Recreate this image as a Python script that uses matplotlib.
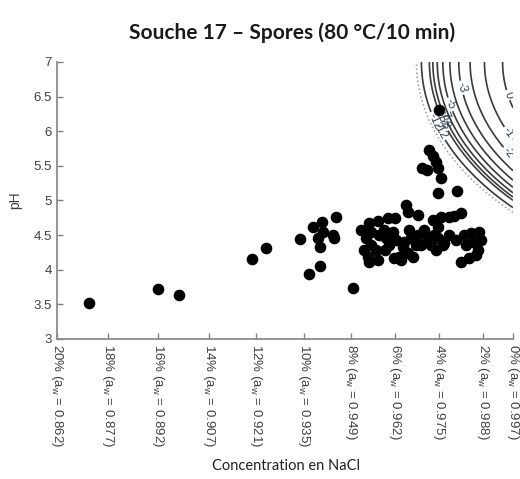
import numpy as np
import matplotlib
matplotlib.use('Agg')
import matplotlib.pyplot as plt

plt.rcParams['font.family'] = ['Liberation Sans', 'DejaVu Sans']
plt.rcParams['mathtext.fontset'] = 'custom'
plt.rcParams['mathtext.rm'] = 'Liberation Sans'

# observed growth conditions (water activity, pH)
aw_obs = [0.8715, 0.8920, 0.8982, 0.9196, 0.9240, 0.9338, 0.9365, 0.9400, 0.9377, 0.9406,
          0.9445, 0.9392, 0.9409, 0.9436, 0.9439, 0.9400, 0.9495, 0.9519, 0.9543, 0.9570,
          0.9599, 0.9620, 0.9653, 0.9659, 0.9688, 0.9534, 0.9549, 0.9573, 0.9587, 0.9614,
          0.9623, 0.9528, 0.9549, 0.9540, 0.9543, 0.9570, 0.9617, 0.9632, 0.9638, 0.9659,
          0.9673, 0.9647, 0.9662, 0.9667, 0.9682, 0.9688, 0.9706, 0.9718, 0.9733, 0.9748,
          0.9756, 0.9780, 0.9795, 0.9816, 0.9736, 0.9748, 0.9765, 0.9780, 0.9742, 0.9762,
          0.9825, 0.9846, 0.9869, 0.9875, 0.9851, 0.9866, 0.9860, 0.9840, 0.9816, 0.9751,
          0.9721, 0.9733, 0.9742, 0.9748, 0.9756, 0.9700, 0.9715, 0.9748, 0.9804, 0.9590,
          0.9602, 0.9564, 0.9593, 0.9644, 0.9697, 0.9727, 0.9801, 0.9831]
ph_obs = [3.52, 3.72, 3.64, 4.16, 4.31, 4.44, 3.94, 4.05, 4.62, 4.69,
          4.76, 4.46, 4.55, 4.50, 4.46, 4.33, 3.74, 4.57, 4.68, 4.70,
          4.74, 4.75, 4.94, 4.83, 4.79, 4.46, 4.55, 4.50, 4.57, 4.55,
          4.43, 4.29, 4.36, 4.18, 4.11, 4.14, 4.17, 4.18, 4.14, 4.24,
          4.18, 4.40, 4.57, 4.46, 4.36, 4.50, 4.57, 4.46, 4.72, 4.62,
          4.76, 4.76, 4.78, 4.82, 4.50, 4.46, 4.39, 4.50, 4.29, 4.36,
          4.50, 4.53, 4.55, 4.43, 4.40, 4.29, 4.22, 4.17, 4.11, 6.31,
          5.73, 5.64, 5.56, 5.47, 5.32, 5.47, 5.44, 5.11, 5.14, 4.29,
          4.36, 4.29, 4.46, 4.33, 4.36, 4.36, 4.43, 4.36]

# NaCl concentration ticks and matching water activity
nacl_pct = [20, 18, 16, 14, 12, 10, 8, 6, 4, 2, 0]
aw_ticks = [0.862, 0.877, 0.892, 0.907, 0.921, 0.935, 0.949, 0.962, 0.975, 0.988, 0.997]
ph_ticks = [3, 3.5, 4, 4.5, 5, 5.5, 6, 6.5, 7]

# inactivation model surface (log reduction)
aw_center = 1.077
ph_center = 7.0
ph_scale = 0.03385
r_limit = 0.1086
slope = 4.23
offset = 6.125
levels = [-12, -8, -7, -6, -5, -4, -3, -2, -1, 0]

fig = plt.figure(figsize=(5.2, 4.79), dpi=100)
ax = fig.add_axes([0.1096, 0.2923, 0.8769, 0.5783])

aw_grid, ph_grid = np.meshgrid(np.linspace(0.862, 0.997, 500), np.linspace(3, 7, 500))
rn = np.sqrt((aw_center - aw_grid) ** 2 + (ph_scale * (ph_center - ph_grid)) ** 2) / r_limit
with np.errstate(invalid='ignore', divide='ignore'):
    logred = slope * np.log(1 - rn) + offset
logred = np.where(rn < 1, logred, np.nan)

cs = ax.contour(aw_grid, ph_grid, logred, levels=levels, colors='#3a3a3a',
                linewidths=1.2, linestyles='solid')
ax.contour(aw_grid, ph_grid, rn, levels=[1.0], colors='#9a9a9a', linewidths=1.1, linestyles=':')
label_pos = [(0.9700, 5.87), (0.9728, 5.98), (0.9736, 6.02), (0.9751, 6.12), (0.9762, 6.23),
             (0.9780, 6.38), (0.9810, 6.62), (0.9949, 5.66), (0.9949, 5.95), (0.9955, 6.52)]
ax.clabel(cs, fmt='%d', fontsize=8.5, colors='#334455', manual=label_pos, inline=True,
          inline_spacing=2)

ax.scatter(aw_obs, ph_obs, s=54, color='black', zorder=3)

ax.set_xlim(0.862, 0.997)
ax.set_ylim(3, 7)
ax.set_xticks(aw_ticks)
ax.set_xticklabels(['%d%% (a$_\\mathregular{w}$ = %.3f)' % (c, a) for c, a in zip(nacl_pct, aw_ticks)],
                   rotation=270, ha='center', va='top', fontsize=9.5, color='#404040')
ax.set_yticks(ph_ticks)
ax.set_yticklabels(['%g' % v for v in ph_ticks], fontsize=9.5, color='#404040')
ax.tick_params(direction='in', length=4, color='#808080', width=1)

for side in ['top', 'right']:
    ax.spines[side].set_visible(False)
for side in ['left', 'bottom']:
    ax.spines[side].set_color('#8c8c8c')
    ax.spines[side].set_linewidth(1.3)

ax.set_ylabel('pH', fontsize=10, color='#404040', labelpad=8)
fig.text(0.55, 0.028, 'Concentration en NaCl', fontsize=10.5, family=['Lato', 'DejaVu Sans'],
         ha='center', va='center', color='#202020')
fig.text(0.562, 0.931, 'Souche 17 – Spores (80 °C/10 min)', fontsize=15, fontweight='bold',
         family=['Lato', 'DejaVu Sans'], ha='center', va='center', color='#1a1a1a')

fig.savefig('out.png', dpi=100)
